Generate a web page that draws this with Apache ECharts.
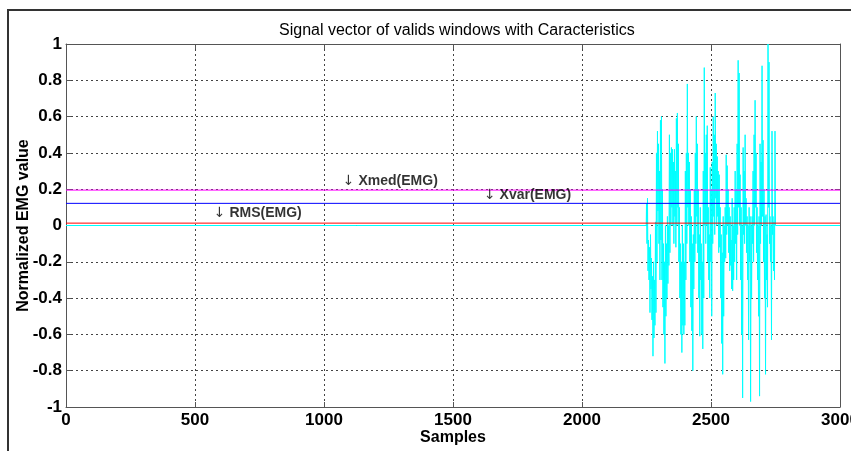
<!DOCTYPE html>
<html>
<head>
<meta charset="utf-8">
<script src="https://cdn.jsdelivr.net/npm/echarts@6/dist/echarts.min.js"></script>
<style>
  html, body { margin: 0; padding: 0; background: #fff; }
  #chart { width: 851px; height: 451px; }
</style>
</head>
<body>
<div id="chart"></div>
<script>
// Axis ticks
const xTicks = [0, 500, 1000, 1500, 2000, 2500, 3000];
const yTicks = [-1, -0.8, -0.6, -0.4, -0.2, 0, 0.2, 0.4, 0.6, 0.8, 1];

// Valid EMG window: samples 2250..2750 (zero elsewhere)
const sigStart = 2250;
const sigEnd = 2750;
const emg = [
   0.12, -0.10,  0.15, -0.25, -0.08, -0.30, -0.12, -0.48, -0.05, -0.35,
  -0.18, -0.52, -0.28, -0.72, -0.20, -0.62, -0.30, -0.55,  0.02, -0.48,
   0.40, -0.20,  0.52,  0.08,  0.45, -0.10,  0.30, -0.30,  0.58, -0.08,
   0.60, -0.30,  0.20, -0.45, -0.10, -0.60, -0.20, -0.76,  0.00, -0.50,
  -0.10, -0.40,  0.05, -0.32,  0.00, -0.22,  0.50, -0.15,  0.40,  0.00,
   0.43,  0.10,  0.42,  0.00,  0.35, -0.10,  0.42,  0.05,  0.30, -0.12,
   0.59,  0.00,  0.62,  0.10,  0.45, -0.20,  0.10, -0.40, -0.10, -0.60,
  -0.20, -0.70,  0.00, -0.55, -0.10, -0.60, -0.20, -0.55,  0.30, -0.30,
   0.40, -0.10,  0.78,  0.10,  0.40,  0.00,  0.35, -0.20,  0.20, -0.45,
   0.05, -0.58, -0.10, -0.80, -0.05, -0.35,  0.20, -0.20,  0.40, -0.10,
   0.60,  0.05,  0.45, -0.15,  0.20, -0.40, -0.05, -0.61,  0.10, -0.30,
  -0.10, -0.60, -0.20, -0.68,  0.30, -0.40,  0.87,  0.00,  0.40, -0.10,
   0.50,  0.00,  0.55, -0.20,  0.10, -0.30, -0.05, -0.40,  0.32, -0.20,
   0.20, -0.50,  0.35, -0.10,  0.60,  0.05,  0.50, -0.05,  0.73,  0.15,
   0.45,  0.00,  0.38,  0.05,  0.30, -0.15,  0.28, -0.12,  0.10, -0.40,
  -0.05, -0.65, -0.15, -0.82,  0.05, -0.50,  0.00, -0.20,  0.10, -0.18,
   0.39, -0.05,  0.33,  0.00,  0.20, -0.15,  0.10, -0.25,  0.05, -0.22,
  -0.08, -0.35,  0.15, -0.36,  0.00, -0.30,  0.10, -0.20,  0.30, -0.10,
   0.20, -0.30,  0.45, -0.05,  0.91,  0.10,  0.84,  0.00,  0.28, -0.30,
   0.10, -0.60,  0.00, -0.95,  0.43, -0.05,  0.30, -0.10,  0.50,  0.00,
   0.15, -0.15,  0.05, -0.30,  0.00, -0.63,  0.10, -0.20,  0.05, -0.97,
   0.00, -0.40,  0.05, -0.10,  0.30, -0.20,  0.50,  0.00,  0.69,  0.10,
   0.40, -0.15,  0.10, -0.30,  0.00, -0.50,  0.05, -0.94,  0.45, -0.10,
   0.35,  0.00,  0.88,  0.05,  0.47, -0.20,  0.20, -0.40,  0.05, -0.82,
   0.06, -0.30, -0.05, -0.45,  1.00,  0.10,  0.90, -0.10,  0.05, -0.20,
   0.00, -0.63,  0.52, -0.05,  0.05, -0.25,  0.02, -0.30,  0.52,  0.00
];

// Characteristic levels of the window
const featureNames = ['Xmed(EMG)', 'Xvar(EMG)', 'RMS(EMG)'];
const featureValues = [0.195, 0.122, 0.013];

// Styling / placement of the characteristic lines and their captions
const featureColors = ['#ff00ff', '#0000ff', '#ff0000'];
const captionAnchors = [[1073, 0.245], [1620, 0.168], [573, 0.069]];

const FONT = '"Liberation Sans", Arial, Helvetica, sans-serif';

// Full sample vector: zeros outside the valid window
const step = (sigEnd - sigStart) / (emg.length - 1);
const signalData = [[xTicks[0], 0], [sigStart - 1, 0]];
emg.forEach((v, i) => signalData.push([sigStart + i * step, v]));
signalData.push([sigEnd + 1, 0], [xTicks[xTicks.length - 1], 0]);

const xMin = xTicks[0], xMax = xTicks[xTicks.length - 1];
const yMin = yTicks[0], yMax = yTicks[yTicks.length - 1];
const xInt = xTicks[1] - xTicks[0];
const yInt = 0.2;

const axisColor = '#555';
const plainNum = v => String(Math.round(v * 1000) / 1000);
const tickLabel = { fontFamily: FONT, fontSize: 17, fontWeight: 'bold', color: '#000', formatter: plainNum };
const boxLine = { show: true, onZero: false, lineStyle: { color: axisColor, width: 1 } };
const innerTick = { show: true, inside: true, length: 5, lineStyle: { color: axisColor } };

const chart = echarts.init(document.getElementById('chart'), null, { renderer: 'canvas' });

const series = [
  {
    name: 'EMG',
    type: 'line',
    data: signalData,
    showSymbol: false,
    symbol: 'none',
    lineStyle: { color: '#00ffff', width: 1 },
    z: 2
  }
];
featureNames.forEach((n, i) => {
  series.push({
    name: n,
    type: 'line',
    data: [[xMin, featureValues[i]], [xMax, featureValues[i]]],
    showSymbol: false,
    symbol: 'none',
    lineStyle: { color: featureColors[i], width: 1 },
    z: 3
  });
});
series.push({
  name: 'captions',
  type: 'scatter',
  symbolSize: 0,
  data: featureNames.map((n, i) => ({ name: n, value: captionAnchors[i] })),
  label: {
    show: true,
    position: 'right',
    distance: 0,
    formatter: p => '{a|\u2193} ' + p.name,
    fontFamily: FONT,
    fontSize: 14,
    fontWeight: 'bold',
    color: '#000',
    rich: {
      a: { fontFamily: '"DejaVu Sans", sans-serif', fontSize: 14, fontWeight: 'normal', color: '#000' }
    }
  },
  z: 4
});

chart.setOption({
  animation: false,
  backgroundColor: '#fff',
  title: {
    text: 'Signal vector of valids windows with Caracteristics',
    left: 274,
    top: 18,
    textStyle: { fontFamily: FONT, fontSize: 16, fontWeight: 'normal', color: '#000' }
  },
  grid: { left: 66, right: 11, top: 44, bottom: 44, containLabel: false, outerBoundsMode: 'none' },
  xAxis: [
    {
      type: 'value', min: xMin, max: xMax, interval: xInt, position: 'bottom',
      name: 'Samples', nameLocation: 'middle', nameGap: 23, nameMoveOverlap: false,
      nameTextStyle: { fontFamily: FONT, fontSize: 16, fontWeight: 'bold', color: '#000' },
      axisLine: boxLine,
      axisTick: innerTick,
      axisLabel: Object.assign({ margin: 5, hideOverlap: false }, tickLabel),
      splitLine: { show: true, lineStyle: { color: '#444', width: 1, type: [2, 3] } }
    },
    {
      type: 'value', min: xMin, max: xMax, interval: xInt, position: 'top',
      axisLine: boxLine,
      axisTick: innerTick,
      axisLabel: { show: false },
      splitLine: { show: false }
    }
  ],
  yAxis: [
    {
      type: 'value', min: yMin, max: yMax, interval: yInt, position: 'left',
      name: 'Normalized EMG value', nameLocation: 'middle', nameGap: 34, nameRotate: 90,
      nameMoveOverlap: false,
      nameTextStyle: { fontFamily: FONT, fontSize: 16, fontWeight: 'bold', color: '#000' },
      axisLine: boxLine,
      axisTick: innerTick,
      axisLabel: Object.assign({ margin: 4 }, tickLabel),
      splitLine: { show: true, lineStyle: { color: '#444', width: 1, type: [2, 3] } }
    },
    {
      type: 'value', min: yMin, max: yMax, interval: yInt, position: 'right',
      axisLine: boxLine,
      axisTick: innerTick,
      axisLabel: { show: false },
      splitLine: { show: false }
    }
  ],
  series: series,
  graphic: [
    {
      type: 'polyline',
      shape: { points: [[8, 451], [8, 10], [851, 10]] },
      style: { stroke: '#333', lineWidth: 2, fill: null },
      silent: true
    }
  ]
});
</script>
</body>
</html>
